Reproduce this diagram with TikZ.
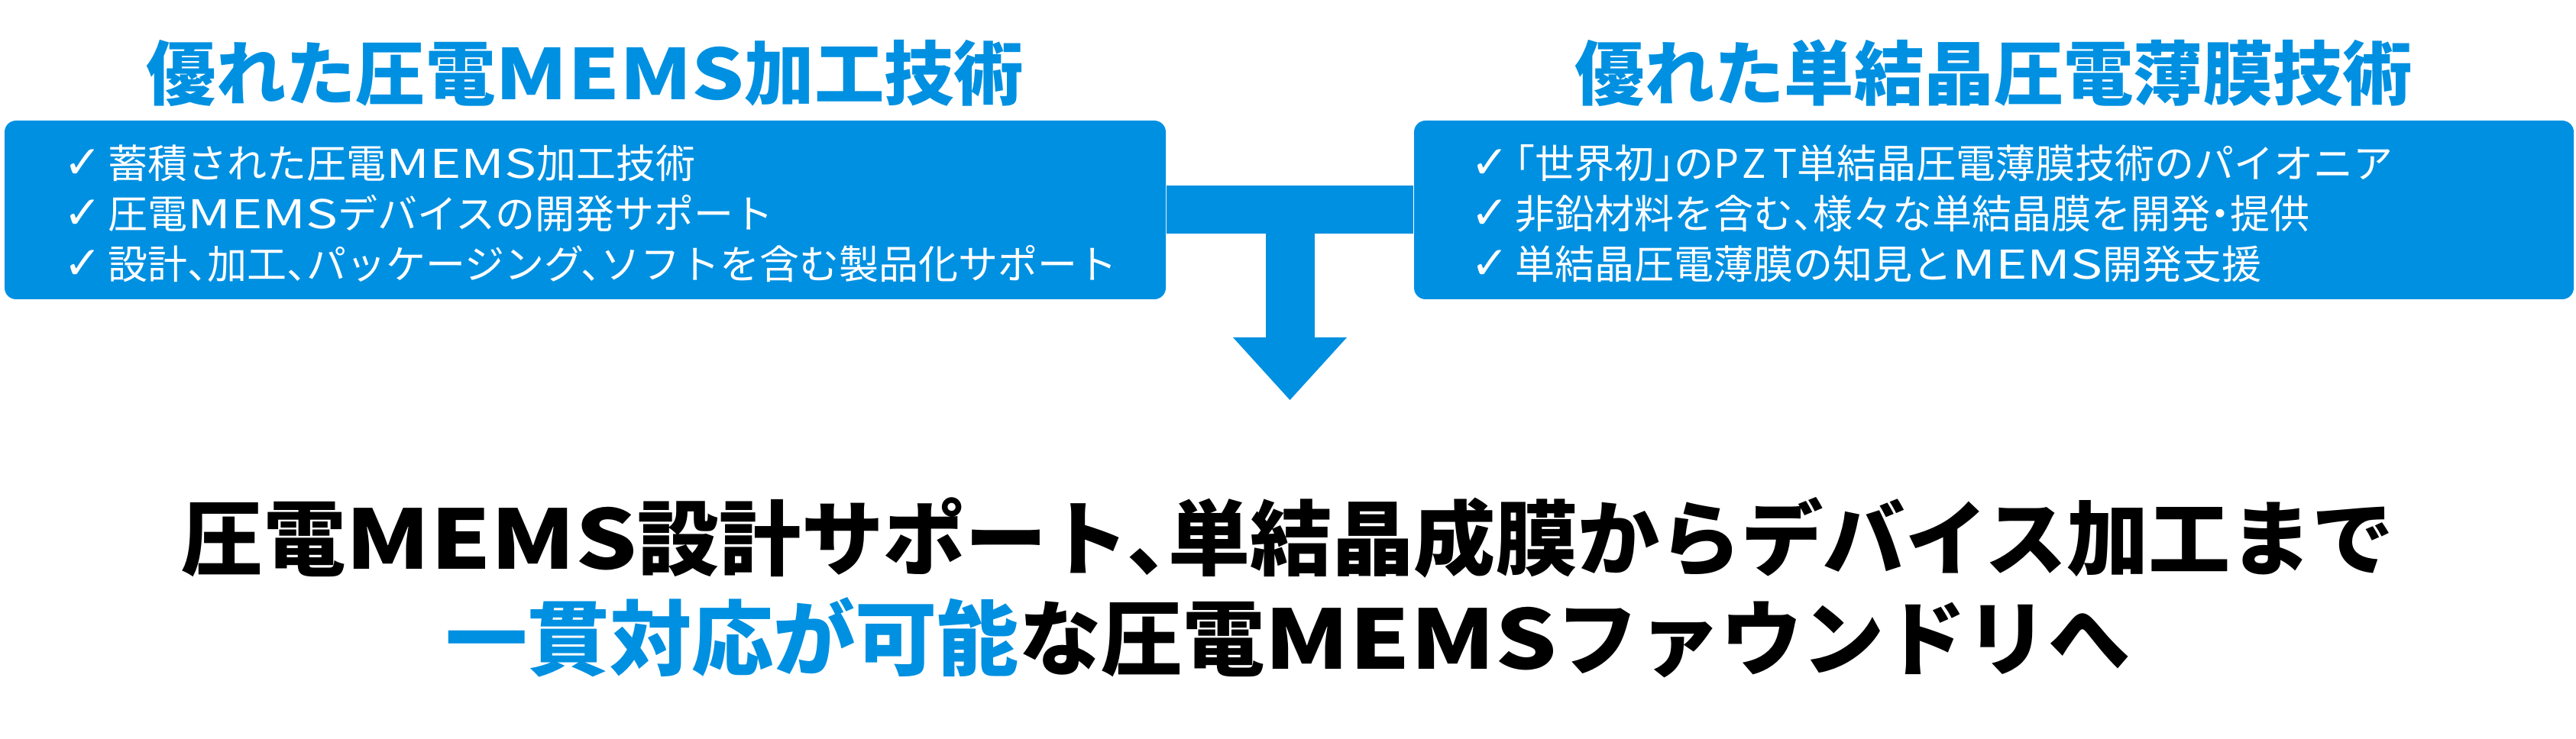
\documentclass[tikz,border=0pt]{standalone}
\usepackage{fontspec}
\setmainfont{Noto Sans CJK JP}[RawFeature=+halt]
\newfontfamily\symfont{DejaVu Sans}
\usetikzlibrary{arrows.meta,positioning,calc}
\definecolor{memsblue}{RGB}{0,144,225}
\newcommand{\chk}{\makebox[0.58cm][l]{\symfont\fontsize{17}{18}\selectfont ✓}}
\newcommand{\latin}[2][1.35]{{\addfontfeature{FakeStretch=#1}#2}}

\begin{document}
\begin{tikzpicture}[
  panel/.style={fill=memsblue, rounded corners=0.15cm, minimum width=15.2cm, minimum height=2.34cm, inner sep=0pt},
  heading/.style={text=memsblue, font=\fontsize{26}{30}\selectfont\bfseries, anchor=base, inner sep=0pt},
  item/.style={text=white, font=\fontsize{14.8}{18}\selectfont, anchor=base west, inner sep=0pt},
  claim/.style={font=\fontsize{30.5}{36}\selectfont\bfseries, anchor=base, inner sep=0pt},
  bar/.style={draw=memsblue, line width=0.63cm},
  bigarrow/.style={draw=memsblue, line width=0.64cm, -{Triangle[length=0.82cm, width=1.49cm, line width=0pt]}}
]
\useasboundingbox (0,0) rectangle (33.72,-9.68);

% two technology panels
\node[panel] (lbox) at (7.66,-2.75) {};
\node[panel, minimum width=15.18cm] (rbox) at (26.10,-2.75) {};

\node[heading] (ltitle) at ($(lbox.north)+(0,0.27)$) {優れた圧電\latin[1.18]{MEMS}加工技術};
\node[heading] (rtitle) at ($(rbox.north)+(0,0.27)$) {優れた単結晶圧電薄膜技術};

\foreach \t [count=\i] in {蓄積された圧電\latin{MEMS}加工技術, 圧電\latin{MEMS}デバイスの開発サポート, 設計、加工、パッケージング、ソフトを含む製品化サポート}
  \node[item] (litem\i) at ($(lbox.north west)+(0.77,-0.10-0.66*\i)$) {\chk\t};
\foreach \t [count=\i] in {「世界初」の{\addfontfeature{LetterSpace=18}PZT}単結晶圧電薄膜技術のパイオニア, 非鉛材料を含む、様々な単結晶膜を開発・提供, 単結晶圧電薄膜の知見と\latin{MEMS}開発支援}
  \node[item] (ritem\i) at ($(rbox.north west)+(0.74,-0.10-0.66*\i)$) {\chk\t};

% joining bar and arrow down
\coordinate (fork) at ($(lbox.east)!0.5!(rbox.west)$);
\coordinate (tip) at ($(fork)+(0,-2.49)$);
\draw[bar] (lbox.east) -- (rbox.west);
\draw[bigarrow] (fork) -- (tip);

% conclusion
\node[claim] (claim1) at (16.86,-7.46) {圧電\latin[1.18]{MEMS}設計サポート、単結晶成膜からデバイス加工まで};
\node[claim] (claim2) at ($(claim1.base)+(0,-1.30)$) {\textcolor{memsblue}{一貫対応が可能}な圧電\latin[1.18]{MEMS}ファウンドリへ};

\end{tikzpicture}
\end{document}
